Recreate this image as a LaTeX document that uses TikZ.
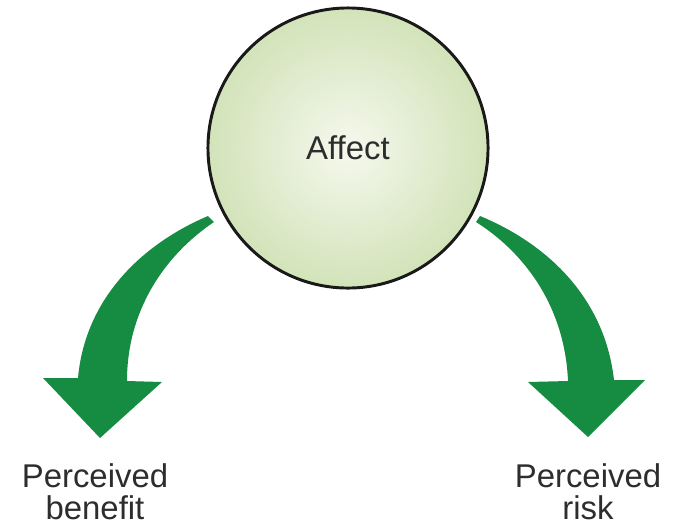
\documentclass[tikz,border=0pt]{standalone}
\usepackage{fontspec}
\setmainfont{Liberation Sans}

\definecolor{arrowgreen}{RGB}{22,140,66}
\definecolor{affectin}{RGB}{246,248,238}
\definecolor{affectout}{RGB}{210,227,185}
\definecolor{labelgray}{RGB}{45,45,45}

\begin{document}
\begin{tikzpicture}[x=0.025cm, y=-0.025cm,
    bigarrow/.style={fill=arrowgreen, draw=none},
    lbl/.style={align=center, text=labelgray, inner sep=0pt,
        font=\fontsize{23.4}{22.7}\selectfont}]
    \useasboundingbox (0,0) rectangle (678,528);

    % curved block arrows, drawn under the circle
    \fill[bigarrow] (43,378) -- (78,378)
        .. controls (85,300) and (140,245) .. (208,216) -- (214,222)
        .. controls (165,255) and (127,310) .. (127,381)
        -- (162,382) -- (100,438) -- cycle;
    \fill[bigarrow] (645,380) -- (614,380)
        .. controls (605,300) and (550,245) .. (480,216) -- (476,222)
        .. controls (528,255) and (565,310) .. (568,381)
        -- (528,382) -- (588,437) -- cycle;

    \node[circle, draw=black!90, line width=2.1pt, minimum size=7cm,
        inner color=affectin, outer color=affectout, text=labelgray,
        font=\fontsize{23.4}{22.7}\selectfont] (affect) at (348,148) {Affect};

    \node[lbl, anchor=base] (benefit) at (95,519) {Perceived\\benefit};
    \node[lbl, anchor=base] (risk) at (588,519) {Perceived\\risk};
\end{tikzpicture}
\end{document}
